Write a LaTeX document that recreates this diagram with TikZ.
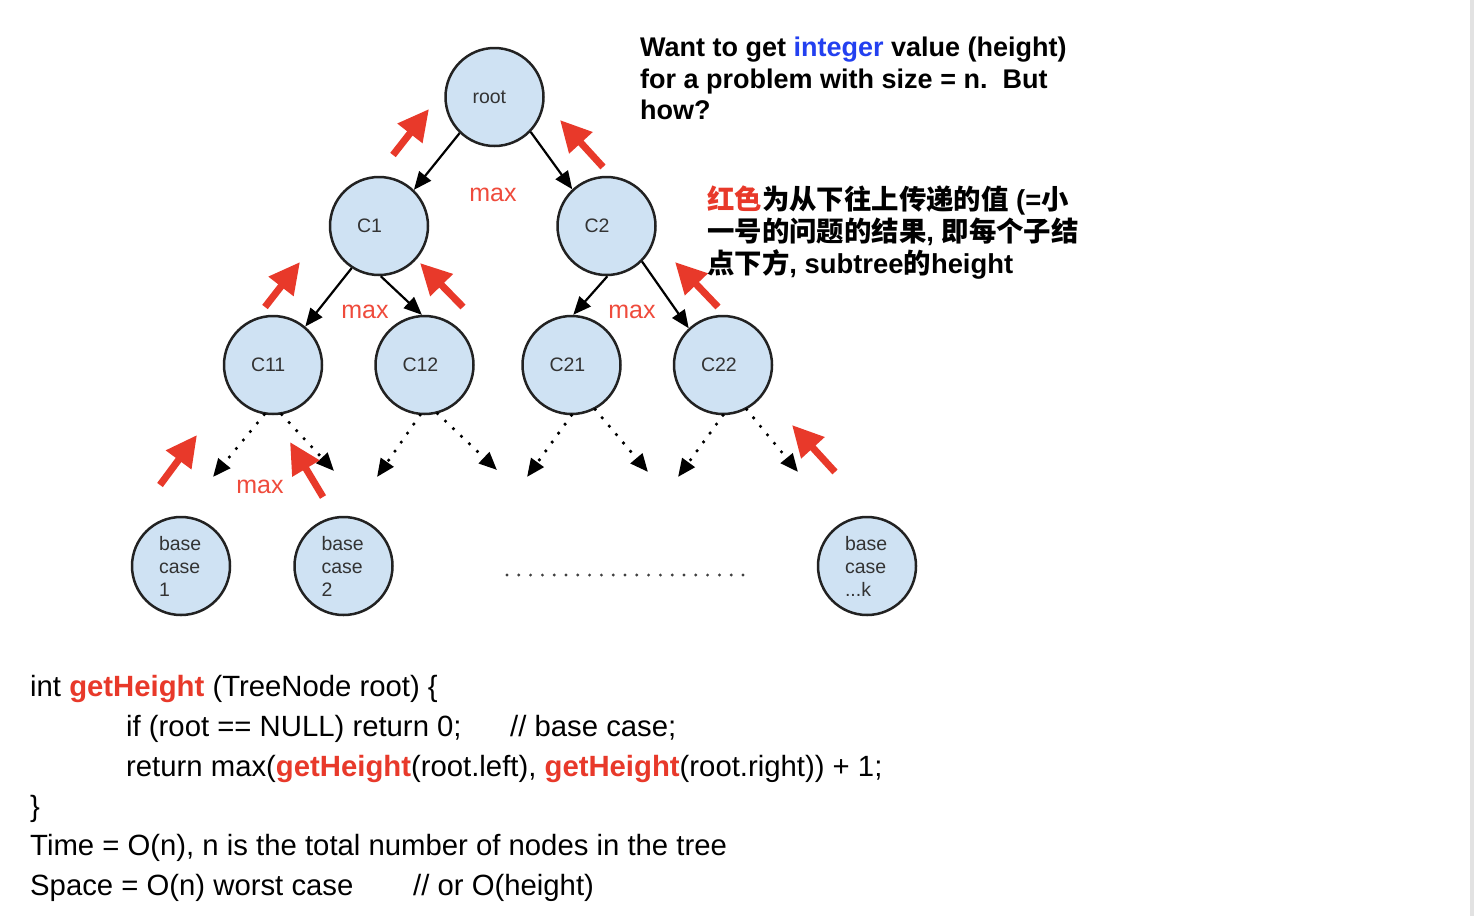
\documentclass[tikz,border=0pt]{standalone}
\usepackage{fontspec}
\setmainfont{Liberation Sans}
\newfontfamily\cjk{Noto Sans CJK SC}
\usetikzlibrary{arrows.meta}
\definecolor{nodefill}{HTML}{CFE2F3}
\definecolor{nodedraw}{HTML}{222222}
\definecolor{upred}{HTML}{E8392A}
\definecolor{maxred}{HTML}{EF4B3C}
\definecolor{intblue}{HTML}{2340F0}
\definecolor{nodetext}{HTML}{333333}
\definecolor{stripgray}{HTML}{E2E2E2}
\begin{document}
\begin{tikzpicture}[x=1pt,y=-1pt,
  tnode/.style={circle, draw=nodedraw, line width=2.5pt, fill=nodefill,
    minimum size=98pt, inner sep=0pt, text width=44pt, align=left,
    text=nodetext, font=\fontsize{19.5}{23}\selectfont},
  downarrow/.style={draw=black, line width=2.2pt, -{Triangle[length=18pt,width=15pt]}},
  dotarrow/.style={draw=black, line width=3.6pt, line cap=round,
    dash pattern=on 0pt off 11pt, -{Triangle[length=18pt,width=15pt]}},
  uparrow/.style={draw=upred, line width=7pt, -{Triangle[length=31pt,width=30pt]}},
  maxlbl/.style={text=maxred, font=\fontsize{25}{30}\selectfont, inner sep=0pt},
  toptext/.style={anchor=base west, inner sep=0pt, font=\bfseries\fontsize{27}{32}\selectfont},
  cjktext/.style={anchor=base west, inner sep=0pt, font=\bfseries\fontsize{27.4}{32}\selectfont},
  codetext/.style={anchor=base west, inner sep=0pt, font=\fontsize{29.3}{34}\selectfont},
  dotline/.style={draw=black!75, line width=3.2pt, line cap=round, dash pattern=on 0pt off 11.8pt}
]
\useasboundingbox (0,0) rectangle (1474,916);
\fill[white] (0,0) rectangle (1474,916);
\fill[stripgray] (1470,0) rectangle (1474,916);

% tree nodes
\node[tnode] (root) at (494.5,97) {root};
\node[tnode] (C1) at (379,226) {C1};
\node[tnode] (C2) at (606.5,226) {C2};
\node[tnode] (C11) at (273,365) {C11};
\node[tnode] (C12) at (424.5,365) {C12};
\node[tnode] (C21) at (571.5,365) {C21};
\node[tnode] (C22) at (723,365) {C22};
\node[tnode] (B1) at (181,566) {base\\case\\1};
\node[tnode] (B2) at (343.5,566) {base\\case\\2};
\node[tnode] (BK) at (867,566) {base\\case\\...k};

% black edges
\draw[downarrow] (root.226) -- (C1.46);
\draw[downarrow] (root.316) -- (C2.133);
\draw[downarrow] (C1.237) -- (C11.50);
\draw[downarrow] (C1.272) -- (C12.93);
\draw[downarrow] (C2.271) -- (C21.88);
\draw[downarrow] (C2.315) -- (C22.133);

% dotted edges to unknown subtrees
\coordinate (d11l) at (213,477);
\coordinate (d11r) at (334,471);
\coordinate (d12l) at (377,477);
\coordinate (d12r) at (497,470);
\coordinate (d21l) at (527,477);
\coordinate (d21r) at (648,472);
\coordinate (d22l) at (678,477);
\coordinate (d22r) at (798,472);
\draw[dotarrow] (C11.260) -- (d11l);
\draw[dotarrow] (C11.280) -- (d11r);
\draw[dotarrow] (C12.265) -- (d12l);
\draw[dotarrow] (C12.285) -- (d12r);
\draw[dotarrow] (C21.270) -- (d21l);
\draw[dotarrow] (C21.298) -- (d21r);
\draw[dotarrow] (C22.270) -- (d22l);
\draw[dotarrow] (C22.298) -- (d22r);

% horizontal dots
\coordinate (hd1) at (507,575);
\coordinate (hd2) at (743,575);
\draw[dotline] (hd1) -- (hd2);

% red upward arrows
\coordinate (u1a) at (393,155); \coordinate (u1b) at (429,109);
\coordinate (u2a) at (603,167); \coordinate (u2b) at (560,120);
\coordinate (u3a) at (265,307); \coordinate (u3b) at (300,262);
\coordinate (u4a) at (463,307); \coordinate (u4b) at (420,263);
\coordinate (u5a) at (718,307); \coordinate (u5b) at (675,262);
\coordinate (u6a) at (160,485); \coordinate (u6b) at (197,435);
\coordinate (u7a) at (323,497); \coordinate (u7b) at (290,442);
\coordinate (u8a) at (835,472); \coordinate (u8b) at (792,425);
\draw[uparrow] (u1a) -- (u1b);
\draw[uparrow] (u2a) -- (u2b);
\draw[uparrow] (u3a) -- (u3b);
\draw[uparrow] (u4a) -- (u4b);
\draw[uparrow] (u5a) -- (u5b);
\draw[uparrow] (u6a) -- (u6b);
\draw[uparrow] (u7a) -- (u7b);
\draw[uparrow] (u8a) -- (u8b);

% max labels
\node[maxlbl] (m1) at (493,195) {max};
\node[maxlbl] (m2) at (365,312) {max};
\node[maxlbl] (m3) at (632,312) {max};
\node[maxlbl] (m4) at (260,487) {max};

% top-right question
\node[toptext] (q1) at (640,56) {Want to get \textcolor{intblue}{integer} value (height)};
\node[toptext] (q2) at (640,88) {for a problem with size = n.\ \ But};
\node[toptext] (q3) at (640,119) {how?};

% chinese explanation
\node[cjktext] (z1) at (707,209) {\textcolor{upred}{\cjk 红色}{\cjk 为从下往上传递的值} (={\cjk 小}};
\node[cjktext] (z2) at (707,241) {{\cjk 一号的问题的结果}, {\cjk 即每个子结}};
\node[cjktext] (z3) at (707,273) {{\cjk 点下方}, subtree{\cjk 的}height};

% code
\node[codetext] (k1) at (30,696) {int \textcolor{upred}{\bfseries getHeight} (TreeNode root) \{};
\node[codetext] (k2) at (126,736) {\makebox[384pt][l]{if (root == NULL) return 0;}// base case;};
\node[codetext] (k3) at (126,776) {return max(\textcolor{upred}{\bfseries getHeight}(root.left), \textcolor{upred}{\bfseries getHeight}(root.right)) + 1;};
\node[codetext] (k4) at (30,816) {\}};
\node[codetext] (k5) at (30,855) {Time = O(n), n is the total number of nodes in the tree};
\node[codetext] (k6) at (30,895) {\makebox[383pt][l]{Space = O(n) worst case}// or O(height)};
\end{tikzpicture}
\end{document}
